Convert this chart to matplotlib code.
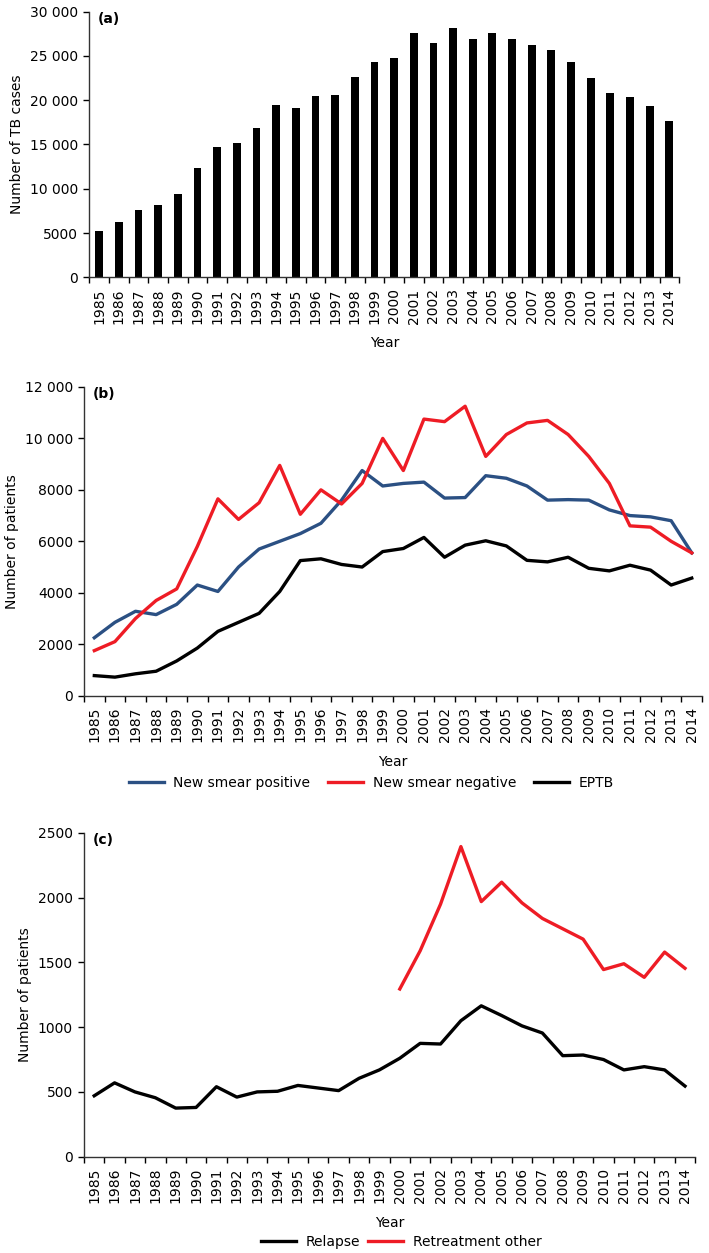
import numpy as np
import matplotlib
matplotlib.use('Agg')
import matplotlib.pyplot as plt
from matplotlib.ticker import FuncFormatter

plt.rcParams['font.family'] = ['DejaVu Sans']

years = [str(y) for y in range(1985, 2015)]

# (a) total TB cases
tb_cases = [5200, 6200, 7550, 8200, 9400, 12300, 14700, 15150, 16900, 19450,
            19100, 20500, 20600, 22600, 24350, 24800, 27600, 26500, 28200, 26950,
            27550, 26950, 26250, 25650, 24300, 22500, 20800, 20400, 19300, 17700]

# (b) new cases by type
smear_pos = [2250, 2850, 3280, 3150, 3550, 4300, 4050, 5000, 5700, 6000,
             6300, 6700, 7600, 8750, 8150, 8250, 8300, 7680, 7700, 8550,
             8450, 8150, 7600, 7620, 7600, 7220, 7000, 6950, 6800, 5550]
smear_neg = [1750, 2100, 3000, 3700, 4150, 5800, 7650, 6850, 7500, 8950,
             7050, 8000, 7450, 8250, 10000, 8750, 10750, 10650, 11250, 9300,
             10150, 10600, 10700, 10150, 9300, 8250, 6600, 6550, 6000, 5550]
eptb = [780, 720, 850, 950, 1350, 1850, 2500, 2850, 3200, 4050,
        5250, 5320, 5100, 5000, 5600, 5720, 6150, 5380, 5850, 6020,
        5820, 5260, 5200, 5380, 4950, 4850, 5070, 4880, 4300, 4570]

# (c) retreatment
relapse = [470, 570, 500, 455, 375, 380, 540, 460, 500, 505,
           550, 530, 510, 605, 670, 760, 875, 870, 1050, 1165,
           1090, 1010, 955, 780, 785, 750, 670, 695, 670, 545]
retreat_years = [str(y) for y in range(2000, 2015)]
retreat_other = [1295, 1590, 1950, 2395, 1970, 2120, 1960, 1840, 1760, 1680,
                 1445, 1490, 1385, 1580, 1455]

BLUE = '#2b5083'
RED = '#ee1c25'
FS = 10


def thousands(v, pos):
    v = int(v)
    if v >= 10000:
        return f'{v:,}'.replace(',', ' ')
    return str(v)


def style_axis(ax, ymax, ystep, label, tag):
    n = len(years)
    ax.set_xlim(-0.5, n - 0.5)
    ax.set_ylim(0, ymax)
    ax.set_yticks(np.arange(0, ymax + 1, ystep))
    ax.yaxis.set_major_formatter(FuncFormatter(thousands))
    # tick marks at category boundaries, labels at centres
    ax.set_xticks(np.arange(-0.5, n, 1))
    ax.set_xticklabels([])
    ax.set_xticks(np.arange(n), minor=True)
    ax.set_xticklabels(years, minor=True, rotation=90, fontsize=FS)
    ax.tick_params(axis='x', which='major', length=4.5, width=1, direction='out')
    ax.tick_params(axis='x', which='minor', length=0, pad=8)
    ax.tick_params(axis='y', length=4.5, width=1, labelsize=FS, pad=3.5)
    for s in ['top', 'right']:
        ax.spines[s].set_visible(False)
    for s in ['left', 'bottom']:
        ax.spines[s].set_linewidth(1)
        ax.spines[s].set_color('#333333')
    ax.set_ylabel(label, fontsize=FS)
    ax.set_xlabel('Year', fontsize=FS, labelpad=9)
    ax.text(0.0135, 1.0, tag, transform=ax.transAxes, fontsize=FS,
            fontweight='bold', va='top', ha='left')


fig = plt.figure(figsize=(7.09, 12.53), dpi=100)

ax_a = fig.add_axes([0.126, 0.7787, 0.832, 0.212])
ax_b = fig.add_axes([0.1185, 0.4448, 0.8717, 0.2464])
ax_c = fig.add_axes([0.1185, 0.0769, 0.862, 0.2583])

# Panel a
x = np.arange(len(years))
ax_a.bar(x, tb_cases, width=0.4, color='black')
style_axis(ax_a, 30000, 5000, 'Number of TB cases', '(a)')

# Panel b
lw = 2.4
ax_b.plot(x, smear_pos, color=BLUE, lw=lw, label='New smear positive', solid_joinstyle='round')
ax_b.plot(x, smear_neg, color=RED, lw=lw, label='New smear negative', solid_joinstyle='round')
ax_b.plot(x, eptb, color='black', lw=lw, label='EPTB', solid_joinstyle='round')
style_axis(ax_b, 12000, 2000, 'Number of patients', '(b)')
ax_b.legend(loc='center', bbox_to_anchor=(0.524, 0.375), bbox_transform=fig.transFigure,
            ncol=3, frameon=False, fontsize=FS, handlelength=2.5, columnspacing=1.3,
            handletextpad=0.7)

# Panel c
xr = np.arange(years.index(retreat_years[0]), len(years))
ax_c.plot(x, relapse, color='black', lw=lw, label='Relapse', solid_joinstyle='round')
ax_c.plot(xr, retreat_other, color=RED, lw=lw, label='Retreatment other', solid_joinstyle='round')
style_axis(ax_c, 2500, 500, 'Number of patients', '(c)')
ax_c.legend(loc='center', bbox_to_anchor=(0.566, 0.009), bbox_transform=fig.transFigure,
            ncol=2, frameon=False, fontsize=FS, handlelength=2.5, columnspacing=0.6,
            handletextpad=0.7)

fig.savefig('out.png', dpi=100)
